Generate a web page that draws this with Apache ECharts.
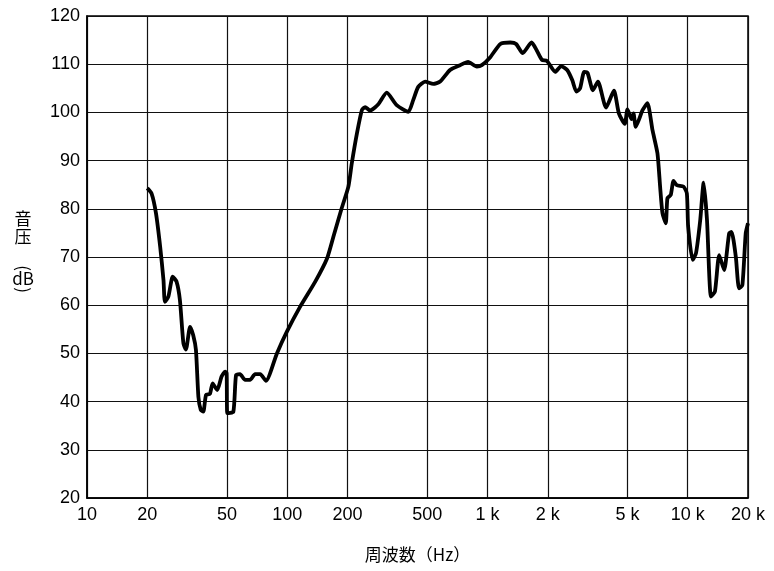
<!DOCTYPE html>
<html>
<head>
<meta charset="utf-8">
<script src="https://cdn.jsdelivr.net/npm/echarts@6/dist/echarts.min.js"></script>
<style>html,body{margin:0;padding:0;background:#fff}#c{width:774px;height:571px}</style>
</head>
<body>
<div id="c"></div>
<script>
const freq = [20, 21, 22.1, 23.2, 24.1, 24.5, 25.5, 26.8, 28, 29.1, 30.3, 31.2, 32.7, 33.9, 35, 36, 37, 38.1, 39.3, 41.1, 42.4, 44.7, 47, 48.9, 49.8, 50.2, 53.8, 55.5, 58.1, 61.6, 65.2, 69.1, 73.3, 78.3, 88.8, 99.6, 116, 138, 158, 170, 187, 202, 210, 223, 236, 245, 259, 285, 314, 352, 402, 426, 451, 488, 536, 580, 650, 730, 800, 885, 937, 1030, 1160, 1300, 1390, 1500, 1660, 1760, 1870, 1980, 2180, 2330, 2500, 2650, 2780, 2900, 3040, 3160, 3360, 3560, 3910, 4280, 4530, 4850, 5000, 5240, 5360, 5500, 5720, 5940, 6290, 6670, 7060, 7280, 7480, 7770, 7920, 8230, 8490, 8820, 9530, 9900, 10050, 10580, 11000, 11550, 12010, 12480, 13060, 13670, 14360, 15200, 16100, 16550, 17380, 18040, 18750, 19480, 20000];
const spl = [84.3, 83.2, 79.1, 72.1, 65.2, 60.7, 61.8, 65.9, 64.9, 61.1, 52.1, 50.8, 55.5, 53.8, 50.7, 41.0, 38.3, 37.9, 41.4, 41.6, 43.8, 42.4, 45.2, 46.2, 45.9, 37.6, 37.9, 45.5, 45.7, 44.5, 44.5, 45.7, 45.7, 44.3, 50.0, 54.5, 59.7, 64.9, 69.7, 74.2, 80.1, 84.6, 89.4, 95.7, 100.5, 101.1, 100.4, 101.7, 104.1, 101.5, 100.1, 102.6, 105.3, 106.4, 105.9, 106.4, 108.8, 109.8, 110.5, 109.5, 109.8, 111.4, 114.2, 114.5, 114.2, 112.3, 114.5, 112.9, 110.9, 110.7, 108.4, 109.6, 108.8, 106.7, 104.3, 105.0, 108.4, 108.2, 104.6, 106.4, 101.0, 104.5, 99.8, 97.6, 100.6, 98.6, 99.8, 97.0, 98.6, 100.4, 101.9, 96.3, 91.5, 84.6, 79.1, 77.0, 82.2, 82.9, 85.8, 84.9, 84.6, 83.2, 76.3, 69.4, 70.8, 77.7, 85.4, 77.7, 61.8, 62.8, 70.4, 67.3, 74.9, 75.2, 70.1, 63.5, 64.2, 74.9, 77.0];
const xTicks = [10, 20, 50, 100, 200, 500, 1000, 2000, 5000, 10000, 20000];
const xTickLabels = ['10', '20', '50', '100', '200', '500', '1 k', '2 k', '5 k', '10 k', '20 k'];
const yMin = 20, yMax = 120, yStep = 10;

const FONT = 'Liberation Sans';
const CJK = 'Noto Sans CJK JP';
const chart = echarts.init(document.getElementById('c'), null, {renderer: 'canvas'});
const labelFor = v => {
  let best = 0, bd = Infinity;
  xTicks.forEach((t, i) => { const d = Math.abs(Math.log10(t) - Math.log10(v)); if (d < bd) { bd = d; best = i; } });
  return xTickLabels[best];
};
const txt = (text, x, y, rot, size) => ({
  type: 'text', x: x, y: y, rotation: rot || 0,
  style: {text: text, fontFamily: CJK, fontSize: size || 17, fill: '#000', align: 'center', verticalAlign: 'middle'}
});
chart.setOption({
  animation: false,
  backgroundColor: '#fff',
  grid: {left: 87, right: 26, top: 16, bottom: 73, show: true, borderColor: '#000', borderWidth: 1.5},
  xAxis: {
    type: 'log', logBase: 10, min: 10, max: 20000,
    name: '周波数（Hz）', nameLocation: 'middle', nameGap: 48,
    nameTextStyle: {fontFamily: CJK, fontSize: 17, color: '#000'},
    axisLine: {show: true, lineStyle: {color: '#000', width: 1.5}},
    axisTick: {show: false, customValues: xTicks},
    axisLabel: {customValues: xTicks, formatter: v => labelFor(v), color: '#000', fontSize: 18, fontFamily: FONT, margin: 8},
    splitLine: {show: true, lineStyle: {color: '#111', width: 1.2}},
    minorSplitLine: {show: false}
  },
  yAxis: {
    type: 'value', min: yMin, max: yMax, interval: yStep,
    axisLine: {show: true, lineStyle: {color: '#000', width: 1.5}},
    axisTick: {show: false},
    axisLabel: {color: '#000', fontSize: 18, fontFamily: FONT, margin: 7},
    splitLine: {show: true, lineStyle: {color: '#111', width: 1.2}}
  },
  graphic: [
    txt('音', 23, 219),
    txt('压', 23, 237),
    txt('(', 23, 268, -Math.PI / 2),
    txt('dB', 23, 279),
    txt(')', 23, 290, -Math.PI / 2)
  ],
  series: [{
    type: 'line', data: freq.map((f, i) => [f, spl[i]]),
    showSymbol: false, smooth: 0.2,
    lineStyle: {color: '#000', width: 3.8}
  }]
});
</script>
</body>
</html>
